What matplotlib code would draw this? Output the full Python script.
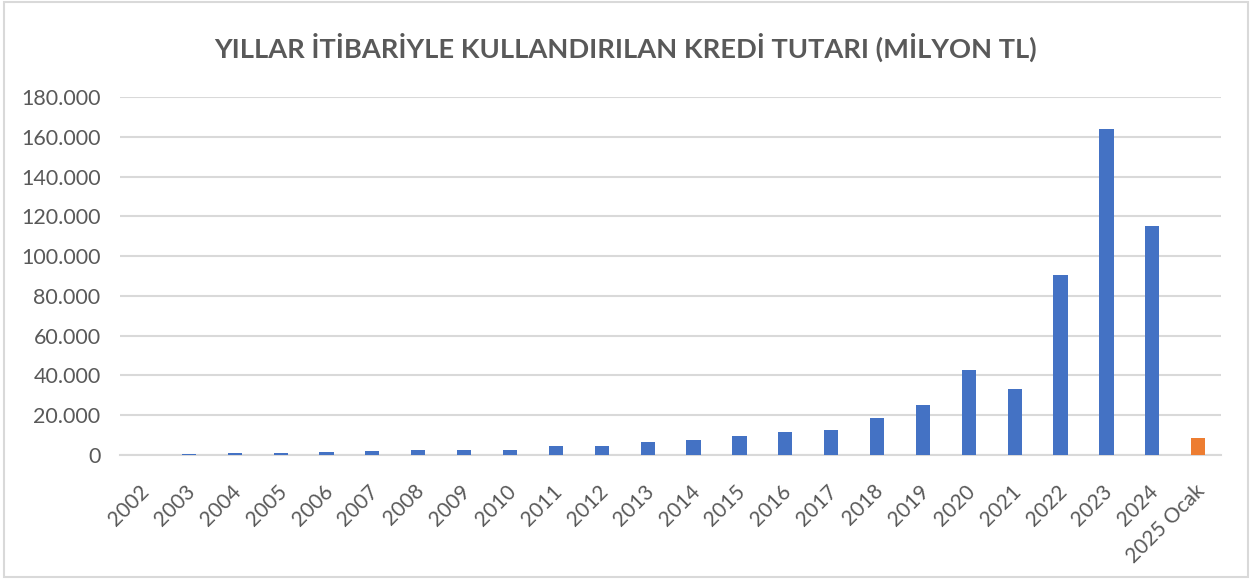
import matplotlib
matplotlib.use("Agg")
import matplotlib.pyplot as plt
from matplotlib.patches import Rectangle
from matplotlib.ticker import FuncFormatter, MultipleLocator
from matplotlib.transforms import ScaledTranslation
import numpy as np

# values (million TL)
years = ["2002", "2003", "2004", "2005", "2006", "2007", "2008", "2009",
         "2010", "2011", "2012", "2013", "2014", "2015", "2016", "2017",
         "2018", "2019", "2020", "2021", "2022", "2023", "2024", "2025 Ocak"]
amounts = [100, 400, 800, 1200, 1700, 2000, 2500, 2500,
           2500, 4400, 4300, 6600, 7700, 9700, 11800, 12800,
           18700, 25000, 42500, 33000, 90700, 164000, 115000, 8700]
bar_colors = ["#4472C4"] * 23 + ["#ED7D31"]

TXT = "#595959"
GRID = "#D9D9D9"

plt.rcParams["font.family"] = ["Lato", "DejaVu Sans"]

fig = plt.figure(figsize=(12.57, 5.79), dpi=100)
fig.patches.append(Rectangle((0.0032, 0.004), 0.990, 0.993, transform=fig.transFigure,
                             fill=False, edgecolor=GRID, lw=1.5))
ax = fig.add_axes([0.0955, 0.2142, 0.876, 0.6183])

x = np.arange(len(years))
ax.bar(x, amounts, width=0.31, color=bar_colors, zorder=3)

ax.set_xlim(-0.5, len(years) - 0.5)
ax.set_ylim(0, 180000)
ax.yaxis.set_major_locator(MultipleLocator(20000))
ax.yaxis.set_major_formatter(FuncFormatter(lambda v, p: f"{int(v):,}".replace(",", ".")))
ax.grid(axis="y", color=GRID, lw=1.5, zorder=0)
for s in ("top", "right", "left"):
    ax.spines[s].set_visible(False)
ax.spines["bottom"].set_color(GRID)
ax.spines["bottom"].set_linewidth(1.5)
ax.tick_params(length=0, colors=TXT, labelsize=15.5)
ax.tick_params(axis="y", pad=14)
ax.set_xticks(x)
ax.set_xticklabels([])

# category labels, rotated, placed a bit below the axis like the original
lab_tr = ax.get_xaxis_transform() + ScaledTranslation(-0.04, -0.26, fig.dpi_scale_trans)
for xi, yr in zip(x, years):
    ax.text(xi, 0, yr, transform=lab_tr, rotation=45, ha="right", va="top",
            rotation_mode="anchor", fontsize=15, color=TXT)

fig.text(0.498, 0.918, "YILLAR İTİBARİYLE KULLANDIRILAN KREDİ TUTARI (MİLYON TL)",
         ha="center", va="center", fontsize=19.6, fontweight="bold", color=TXT)

fig.savefig("out.png", dpi=100)
